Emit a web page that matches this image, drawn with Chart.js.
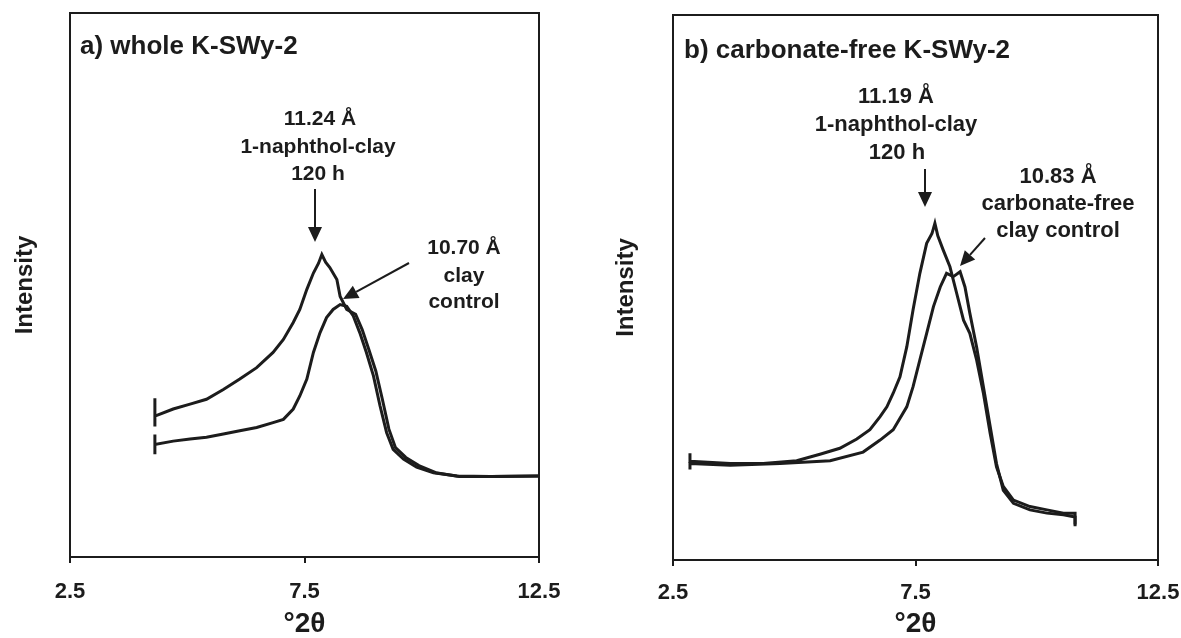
<!DOCTYPE html>
<html lang="en">
<head>
  <meta charset="UTF-8" />
  <title>XRD patterns K-SWy-2</title>
  <script src="https://cdn.jsdelivr.net/npm/chart.js"></script>
  <style>
    body { margin: 0; background: #fff; width: 1181px; height: 638px; position: relative; overflow: hidden; }
    .panel { position: absolute; top: 0; }
    #panelA { left: 0; }
    #panelB { left: 590px; }
  </style>
</head>
<body>
  <div class="panel" id="panelA"><canvas id="chartA" width="590" height="638"></canvas></div>
  <div class="panel" id="panelB"><canvas id="chartB" width="630" height="638"></canvas></div>

  <script>
    // axis ticks (degrees 2-theta)
    const xTicks = [2.5, 7.5, 12.5];

    // a) whole K-SWy-2 -- 1-naphthol-clay 120 h
    const aNaphTheta = [4.31, 4.31, 4.31, 4.70, 5.06, 5.41, 5.77, 6.12, 6.48, 6.83, 7.05, 7.26, 7.40, 7.55, 7.69, 7.80, 7.87, 7.95, 8.04, 8.19, 8.26, 8.40, 8.59, 8.73, 8.87, 9.02, 9.16, 9.30, 9.44, 9.66, 9.94, 10.30, 10.80, 11.50, 12.5];
    const aNaphInt   = [29.2, 24.0, 25.9, 27.2, 28.1, 29.0, 30.8, 32.7, 34.8, 37.6, 40.0, 43.1, 45.5, 49.2, 52.2, 54.0, 55.6, 54.2, 53.2, 51.0, 47.9, 45.5, 44.6, 41.8, 38.2, 34.2, 29.0, 23.5, 20.1, 18.3, 16.8, 15.5, 14.8, 14.8, 14.9];
    // a) clay control
    const aCtrlTheta = [4.31, 4.31, 4.31, 4.70, 5.06, 5.41, 5.77, 6.12, 6.48, 6.83, 7.05, 7.26, 7.40, 7.55, 7.69, 7.83, 7.97, 8.11, 8.26, 8.40, 8.54, 8.68, 8.82, 8.97, 9.11, 9.25, 9.39, 9.61, 9.89, 10.25, 10.75, 11.46, 12.5];
    const aCtrlInt   = [18.9, 22.5, 20.7, 21.3, 21.7, 22.0, 22.6, 23.2, 23.8, 24.7, 25.3, 27.2, 29.6, 32.7, 37.6, 41.2, 44.0, 45.5, 46.4, 46.1, 44.3, 41.2, 37.6, 33.3, 27.8, 22.9, 19.8, 18.0, 16.5, 15.5, 14.9, 14.8, 14.9];

    // b) carbonate-free K-SWy-2 -- 1-naphthol-clay 120 h
    const bNaphTheta = [2.85, 2.85, 3.68, 4.36, 5.05, 5.53, 5.94, 6.29, 6.56, 6.77, 6.91, 7.04, 7.18, 7.32, 7.45, 7.59, 7.73, 7.84, 7.90, 7.96, 8.07, 8.21, 8.35, 8.49, 8.62, 8.76, 8.90, 9.04, 9.17, 9.31, 9.52, 9.86, 10.21, 10.55, 10.79, 10.79];
    const bNaphInt   = [19.6, 18.1, 17.7, 17.7, 18.2, 19.4, 20.5, 22.2, 23.9, 26.3, 28.1, 30.6, 33.6, 39.1, 45.9, 52.6, 58.1, 59.9, 61.8, 59.5, 56.9, 53.8, 48.9, 44.0, 41.6, 36.7, 30.6, 23.2, 17.1, 13.5, 11.0, 9.8, 9.2, 8.6, 8.6, 6.5];
    // b) carbonate-free clay control
    const bCtrlTheta = [2.85, 2.85, 3.68, 4.71, 5.74, 6.42, 6.77, 7.04, 7.32, 7.45, 7.59, 7.73, 7.87, 8.01, 8.14, 8.28, 8.42, 8.52, 8.62, 8.76, 8.90, 9.04, 9.17, 9.31, 9.52, 9.86, 10.21, 10.55, 10.79, 10.79];
    const bCtrlInt   = [16.6, 17.7, 17.4, 17.7, 18.2, 19.8, 22.0, 23.9, 28.1, 31.8, 36.7, 41.6, 46.5, 50.1, 52.6, 52.0, 52.9, 50.1, 45.3, 39.1, 31.8, 24.5, 17.7, 12.8, 10.4, 9.2, 8.6, 8.3, 7.9, 6.2];

    const INK = "#1c1c1c";
    const FONT = "'Liberation Sans', Arial, sans-serif";
    Chart.defaults.font.family = FONT;
    Chart.defaults.color = INK;

    function toPoints(xs, ys) {
      return xs.map((x, i) => ({ x: x, y: ys[i] }));
    }

    function label(ctx, t) {
      ctx.save();
      ctx.font = "bold " + t.size + "px " + FONT;
      ctx.fillStyle = INK;
      ctx.textBaseline = "middle";
      ctx.textAlign = t.align || "center";
      ctx.translate(t.x, t.y);
      ctx.scale(t.sx || 1, 1);
      ctx.fillText(t.text, 0, 0);
      ctx.restore();
    }

    function arrow(ctx, a) {
      const ang = Math.atan2(a.y2 - a.y1, a.x2 - a.x1);
      const head = 15, half = 7;
      ctx.save();
      ctx.strokeStyle = INK;
      ctx.fillStyle = INK;
      ctx.lineWidth = 2;
      ctx.beginPath();
      ctx.moveTo(a.x1, a.y1);
      ctx.lineTo(a.x2 - head * Math.cos(ang), a.y2 - head * Math.sin(ang));
      ctx.stroke();
      ctx.translate(a.x2, a.y2);
      ctx.rotate(ang);
      ctx.beginPath();
      ctx.moveTo(0, 0);
      ctx.lineTo(-head, -half);
      ctx.lineTo(-head, half);
      ctx.closePath();
      ctx.fill();
      ctx.restore();
    }

    const notesPlugin = {
      id: "notes",
      afterDraw(chart, args, opts) {
        const { ctx, chartArea: c } = chart;
        ctx.save();
        ctx.strokeStyle = INK;
        ctx.lineWidth = 2;
        ctx.strokeRect(c.left, c.top, c.right - c.left, c.bottom - c.top);
        ctx.restore();
        (opts.texts || []).forEach(t => label(ctx, t));
        (opts.arrows || []).forEach(a => arrow(ctx, a));
      }
    };

    function makeChart(id, sets, pad, yWidth, xHeight, yTitlePad, tickPad, notes) {
      return new Chart(document.getElementById(id), {
        type: "line",
        data: {
          datasets: sets.map(s => ({
            label: s.name,
            data: s.data,
            borderColor: INK,
            borderWidth: 3,
            pointRadius: 0,
            tension: 0,
            fill: false
          }))
        },
        options: {
          responsive: false,
          animation: false,
          layout: { padding: pad },
          plugins: {
            legend: { display: false },
            tooltip: { enabled: false },
            notes: notes
          },
          scales: {
            x: {
              type: "linear",
              min: 2.5,
              max: 12.5,
              afterBuildTicks: s => { s.ticks = xTicks.map(v => ({ value: v })); },
              afterFit: s => { s.height = xHeight; },
              ticks: {
                callback: v => String(v),
                autoSkip: false,
                maxRotation: 0,
                padding: tickPad,
                color: INK,
                font: { size: 22, weight: "bold" }
              },
              grid: { drawOnChartArea: false, drawTicks: true, tickLength: 6, color: INK, lineWidth: 2 },
              border: { display: false },
              title: {
                display: true,
                text: "°2θ",
                color: INK,
                font: { size: 28, weight: "bold", lineHeight: 1 },
                padding: { top: 0, bottom: 0 }
              }
            },
            y: {
              min: 0,
              max: 100,
              afterFit: s => { s.width = yWidth; },
              ticks: { display: false },
              grid: { display: false },
              border: { display: false },
              title: {
                display: true,
                text: "Intensity",
                color: INK,
                font: { size: 24, weight: "bold", lineHeight: 1 },
                padding: { top: yTitlePad, bottom: 0 }
              }
            }
          }
        },
        plugins: [notesPlugin]
      });
    }

    makeChart("chartA",
      [
        { name: "1-naphthol-clay 120 h", data: toPoints(aNaphTheta, aNaphInt) },
        { name: "clay control", data: toPoints(aCtrlTheta, aCtrlInt) }
      ],
      { left: 0, top: 13, right: 51, bottom: 0 }, 70, 81, 13, 16,
      {
        texts: [
          { text: "a) whole K-SWy-2", x: 80, y: 47, size: 25, sx: 1.04, align: "left" },
          { text: "11.24 Å", x: 320, y: 119, size: 21 },
          { text: "1-naphthol-clay", x: 318, y: 147, size: 21 },
          { text: "120 h", x: 318, y: 174, size: 21 },
          { text: "10.70 Å", x: 464, y: 248, size: 21 },
          { text: "clay", x: 464, y: 276, size: 21 },
          { text: "control", x: 464, y: 302, size: 21 }
        ],
        arrows: [
          { x1: 315, y1: 189, x2: 315, y2: 242 },
          { x1: 409, y1: 263, x2: 343, y2: 299 }
        ]
      });

    makeChart("chartB",
      [
        { name: "1-naphthol-clay 120 h", data: toPoints(bNaphTheta, bNaphInt) },
        { name: "carbonate-free clay control", data: toPoints(bCtrlTheta, bCtrlInt) }
      ],
      { left: 0, top: 15, right: 62, bottom: 0 }, 83, 78, 24, 14,
      {
        texts: [
          { text: "b) carbonate-free K-SWy-2", x: 94, y: 51, size: 25, sx: 1.04, align: "left" },
          { text: "11.19 Å", x: 306, y: 97, size: 22 },
          { text: "1-naphthol-clay", x: 306, y: 125, size: 22 },
          { text: "120 h", x: 307, y: 153, size: 22 },
          { text: "10.83 Å", x: 468, y: 177, size: 22 },
          { text: "carbonate-free", x: 468, y: 204, size: 22 },
          { text: "clay control", x: 468, y: 231, size: 22 }
        ],
        arrows: [
          { x1: 335, y1: 169, x2: 335, y2: 207 },
          { x1: 395, y1: 238, x2: 370, y2: 266 }
        ]
      });
  </script>
</body>
</html>
